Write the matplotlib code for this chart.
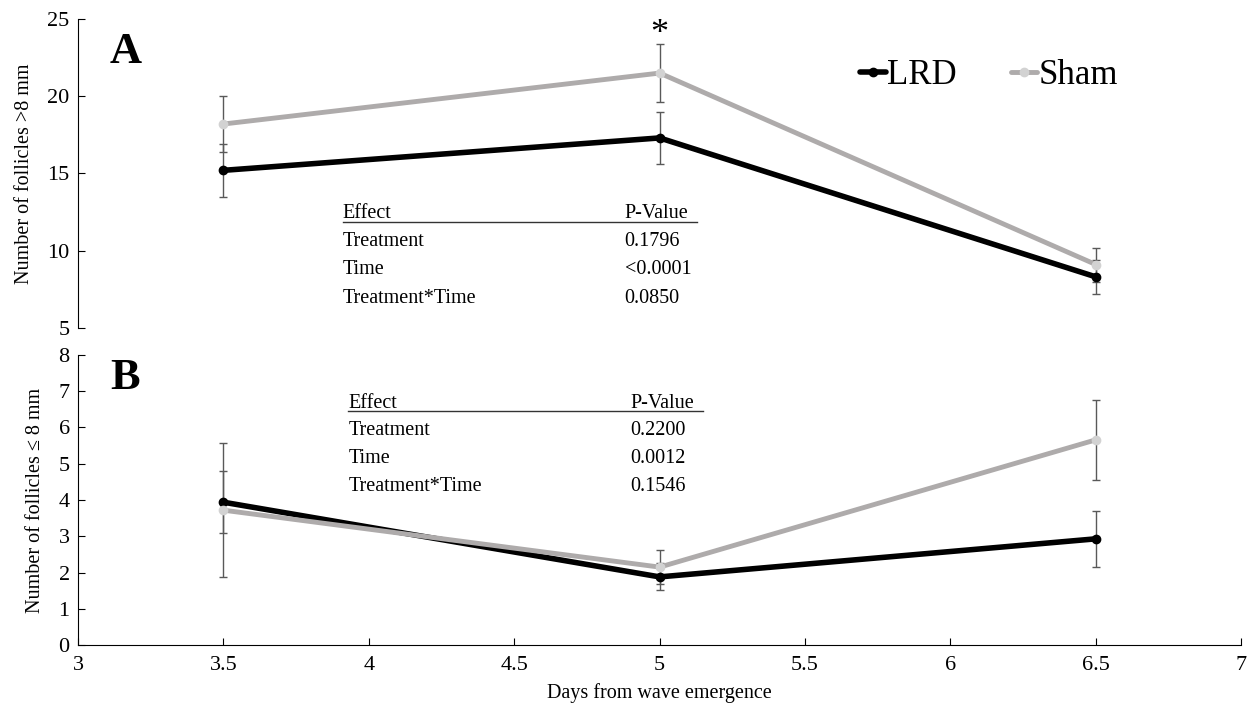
import matplotlib.pyplot as plt

plt.rcParams['font.family'] = ['Liberation Serif', 'DejaVu Serif']

# days from wave emergence
days = [3.5, 5.0, 6.5]

# panel A: follicles > 8 mm
lrd_large = [15.2, 17.3, 8.3]
lrd_large_se = [1.7, 1.7, 1.1]
sham_large = [18.2, 21.5, 9.1]
sham_large_se = [1.8, 1.9, 1.1]

# panel B: follicles <= 8 mm
lrd_small = [3.94, 1.88, 2.93]
lrd_small_se = [0.85, 0.37, 0.77]
sham_small = [3.72, 2.15, 5.66]
sham_small_se = [1.85, 0.47, 1.1]

effects = ['Treatment', 'Time', 'Treatment*Time']
pvals_a = ['0.1796', '<0.0001', '0.0850']
pvals_b = ['0.2200', '0.0012', '0.1546']

LRD_COL = '#000000'
SHAM_COL = '#aeabab'
SHAM_MK = '#d2d2d2'
ERR_COL = '#595959'

fig = plt.figure(figsize=(12.5, 7.05), dpi=100)
axA = fig.add_axes([0.0624, 0.535, 0.9306, 0.438])
axB = fig.add_axes([0.0624, 0.085, 0.9306, 0.4115])


def draw_series(ax, y_lrd, e_lrd, y_sham, e_sham):
    ax.errorbar(days, y_lrd, yerr=e_lrd, fmt='none', ecolor=ERR_COL,
                elinewidth=1.0, capsize=3, capthick=1.0, zorder=1)
    ax.errorbar(days, y_sham, yerr=e_sham, fmt='none', ecolor=ERR_COL,
                elinewidth=1.0, capsize=3, capthick=1.0, zorder=1)
    l1, = ax.plot(days, y_lrd, color=LRD_COL, lw=4, marker='o', ms=6,
                  mfc=LRD_COL, mec=LRD_COL, zorder=2, label='LRD',
                  solid_capstyle='round')
    l2, = ax.plot(days, y_sham, color=SHAM_COL, lw=3.5, marker='o', ms=6,
                  mfc=SHAM_MK, mec=SHAM_MK, zorder=3, label='Sham',
                  solid_capstyle='round')
    return l1, l2


def draw_table(ax, x0, x1, y0, dy, pvals):
    ax.text(x0, y0, 'Effect', fontsize=14.5, va='baseline')
    ax.text(x1, y0, 'P-Value', fontsize=14.5, va='baseline')
    ax.plot([x0, x1 + 0.25], [y0 - dy * 0.12, y0 - dy * 0.12], color='#333333',
            lw=1.0, clip_on=False)
    for i, (eff, p) in enumerate(zip(effects, pvals)):
        y = y0 - dy * (i + 1)
        ax.text(x0, y, eff, fontsize=14.5, va='baseline')
        ax.text(x1, y, p, fontsize=14.5, va='baseline')


# panel A
l1, l2 = draw_series(axA, lrd_large, lrd_large_se, sham_large, sham_large_se)
axA.set_xlim(3, 7)
axA.set_ylim(5, 25)
axA.set_yticks([5, 10, 15, 20, 25])
axA.spines[['top', 'right', 'bottom']].set_visible(False)
axA.tick_params(axis='x', bottom=False, labelbottom=False)
axA.tick_params(axis='y', direction='in', length=5, labelsize=16, pad=6)
axA.set_ylabel('Number of follicles >8 mm', fontsize=14.5, labelpad=10)
axA.text(3.11, 22.15, 'A', fontsize=32, fontweight='bold')
axA.text(5.0, 24.0, '*', fontsize=26, ha='center', va='center')
draw_table(axA, 3.91, 4.88, 12.1, 1.82, pvals_a)
axA.legend(handles=[l1, l2], loc='upper left', bbox_to_anchor=(0.651, 0.948),
           ncol=2, frameon=False, fontsize=25, handlelength=0.75,
           handletextpad=0.05, columnspacing=1.55, borderpad=0.2)

# panel B
draw_series(axB, lrd_small, lrd_small_se, sham_small, sham_small_se)
axB.set_xlim(3, 7)
axB.set_ylim(0, 8)
axB.set_yticks(range(0, 9))
axB.set_xticks([3, 3.5, 4, 4.5, 5, 5.5, 6, 6.5, 7])
axB.set_xticklabels(['3', '3.5', '4', '4.5', '5', '5.5', '6', '6.5', '7'])
axB.spines[['top', 'right']].set_visible(False)
axB.tick_params(direction='in', length=5, labelsize=16)
axB.tick_params(axis='y', pad=6)
axB.tick_params(axis='x', pad=8)
axB.set_ylabel('Number of follicles \u2264 8 mm', fontsize=14.5, labelpad=10)
axB.set_xlabel('Days from wave emergence', fontsize=14.5, labelpad=6)
axB.text(3.11, 7.05, 'B', fontsize=32, fontweight='bold')
draw_table(axB, 3.93, 4.9, 6.55, 0.77, pvals_b)

fig.savefig('out.png', dpi=100)
